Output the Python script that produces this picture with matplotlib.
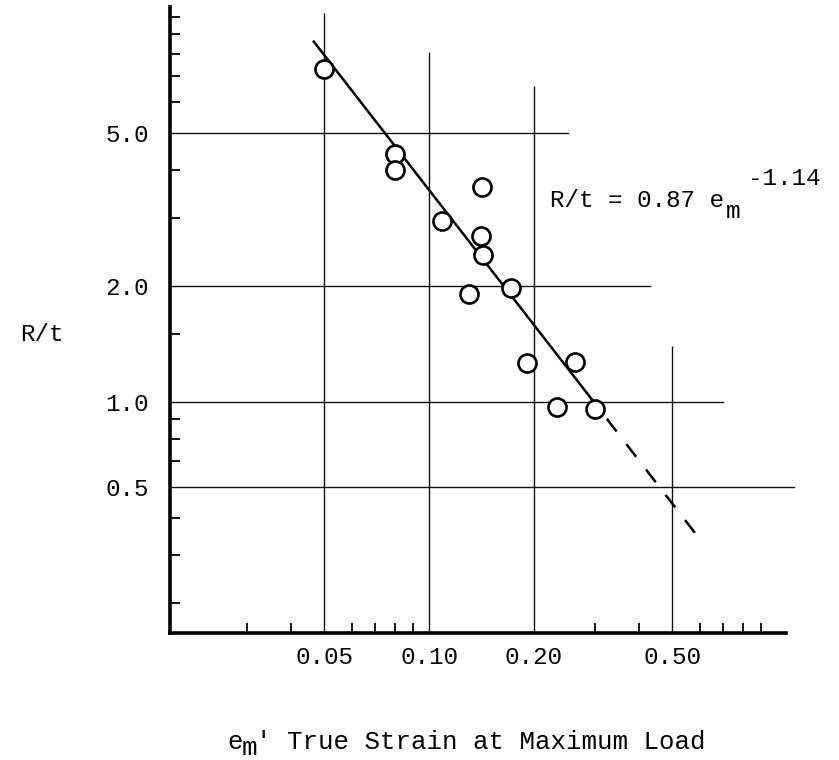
import matplotlib
matplotlib.use("Agg")
import matplotlib.pyplot as plt
from matplotlib.ticker import FixedLocator, NullFormatter

plt.rcParams['font.family'] = ['Liberation Mono', 'DejaVu Sans Mono']

# ---- data ----
strain = [0.050, 0.080, 0.080, 0.109, 0.142, 0.141, 0.143, 0.130, 0.172, 0.191, 0.262, 0.233, 0.299]
ratio = [7.33, 4.41, 4.01, 2.94, 3.62, 2.69, 2.40, 1.91, 1.97, 1.26, 1.27, 0.97, 0.96]

fit_x = [0.0466, 0.292]
fit_y = [8.62, 1.02]
ext_x = [0.580, 0.292]
ext_y = [0.457, 1.02]

x_major = [0.05, 0.10, 0.20, 0.50]
x_major_labels = ['0.05', '0.10', '0.20', '0.50']
x_minor = [0.03, 0.04, 0.06, 0.07, 0.08, 0.09, 0.3, 0.4, 0.6, 0.7, 0.8, 0.9]
y_major = [0.6, 1.0, 2.0, 5.0]
y_major_labels = ['0.5', '1.0', '2.0', '5.0']
y_minor = [0.3, 0.4, 0.5, 0.7, 0.8, 0.9, 1.5, 3, 4, 6, 7, 8, 9, 10]

# partial grid lines (hand drawn lengths)
vgrid_top = [10.25, 8.1, 6.6, 1.4]
hgrid_end = [1.12, 0.70, 0.43, 0.25]

XLIM = (0.018, 1.06)
YLIM = (0.251, 10.6)

W, H = 839, 760
fig = plt.figure(figsize=(W / 100, H / 100), dpi=100)
ax = fig.add_axes([170 / W, 1 - 633 / H, (786 - 170) / W, (633 - 7) / H])
ax.set_xscale('log')
ax.set_yscale('log')
ax.set_xlim(*XLIM)
ax.set_ylim(*YLIM)

for s in ['top', 'right']:
    ax.spines[s].set_visible(False)
for s in ['left', 'bottom']:
    ax.spines[s].set_linewidth(2.6)
    ax.spines[s].set_color('black')

fs = 17.5
ax.xaxis.set_major_locator(FixedLocator(x_major))
ax.set_xticklabels(x_major_labels)
ax.xaxis.set_minor_locator(FixedLocator(x_minor))
ax.xaxis.set_minor_formatter(NullFormatter())
ax.yaxis.set_major_locator(FixedLocator(y_major))
ax.set_yticklabels(y_major_labels)
ax.yaxis.set_minor_locator(FixedLocator(y_minor))
ax.yaxis.set_minor_formatter(NullFormatter())
ax.tick_params(which='major', length=0, labelsize=fs)
ax.tick_params(axis='x', which='major', pad=9)
ax.tick_params(axis='y', which='major', pad=15)
ax.tick_params(which='minor', direction='in', length=7.5, width=1.3, color='black')

ax.vlines(x_major, YLIM[0], vgrid_top, colors='#111111', linewidth=1.0, zorder=1)
for yv, xe in zip(y_major, hgrid_end):
    ax.plot([XLIM[0], xe], [yv, yv], color='#111111', linewidth=1.0, zorder=1, clip_on=False)

ax.plot(fit_x, fit_y, color='black', linewidth=1.8, zorder=2)
ax.plot(ext_x, ext_y, color='black', linewidth=1.8, dashes=(6.4, 6.4), zorder=2)
ax.plot(strain, ratio, linestyle='none', marker='o', markersize=13,
        markerfacecolor='white', markeredgecolor='black', markeredgewidth=1.9, zorder=3)

# annotation with subscript / superscript typed separately
def ftxt(px, py, s, size=fs):
    fig.text(px / W, 1 - py / H, s, fontsize=size, va='baseline', ha='left')

ftxt(550, 207, 'R/t = 0.87 e')
ftxt(726, 218, 'm')
ftxt(748, 185, '-1.14')

ftxt(20, 341, 'R/t')

ftxt(227, 749, 'e', 18.5)
ftxt(242, 755, 'm', 18.5)
ftxt(256, 749, "' True Strain at Maximum Load", 18.5)

fig.savefig('out.png', dpi=100, facecolor='white')
